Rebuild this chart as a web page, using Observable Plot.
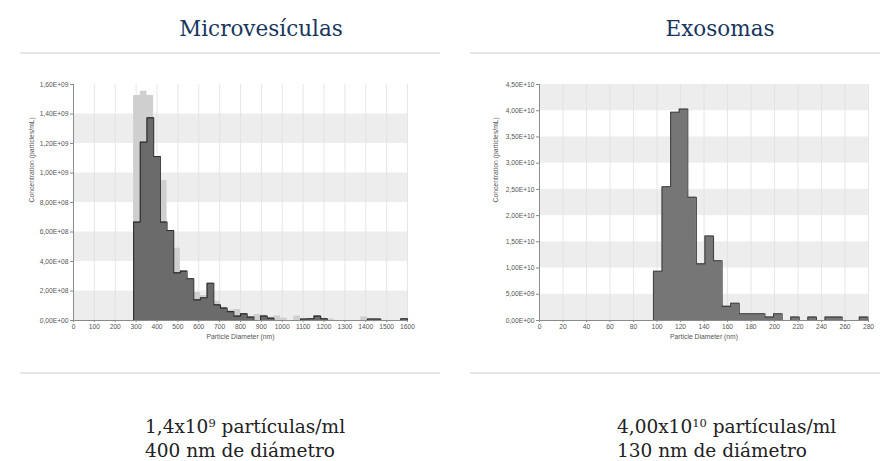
<!DOCTYPE html>
<html><head><meta charset="utf-8">
<script src="https://cdn.jsdelivr.net/npm/d3@7"></script>
<script src="https://cdn.jsdelivr.net/npm/@observablehq/plot@0.6"></script>
<style>
body{margin:0;background:#fff;}
#page{position:relative;width:882px;height:461px;overflow:hidden;font-family:"DejaVu Serif",serif;background:#fff;}
.title{position:absolute;top:16px;font-size:21.5px;line-height:26px;color:#17365d;white-space:nowrap;transform:translateX(-50%);}
.sep{position:absolute;height:1.5px;background:#e6e6e6;}
.note{position:absolute;font-size:18.5px;line-height:24px;color:#222;white-space:nowrap;}
.sup{font-size:0.62em;vertical-align:0.5em;line-height:0;}
.chart{position:absolute;top:60px;}
</style></head>
<body><div id="page">
<div class="title" style="left:261px">Microvesículas</div>
<div class="title" style="left:720px">Exosomas</div>
<div class="sep" style="left:20px;width:420px;top:52px"></div>
<div class="sep" style="left:470px;width:410px;top:52px"></div>
<div class="sep" style="left:20px;width:420px;top:372px"></div>
<div class="sep" style="left:470px;width:410px;top:372px"></div>
<div id="mv" class="chart" style="left:0px"></div>
<div id="exo" class="chart" style="left:460px"></div>
<div class="note" style="left:145px;top:414.6px">1,4x10<span class="sup">9</span> partículas/ml<br>400 nm de diámetro</div>
<div class="note" style="left:617px;top:414.6px">4,00x10<span class="sup">10</span> partículas/ml<br>130 nm de diámetro</div>
</div>
<script>
// ---------- Microvesículas data ----------
const mvEdges = [288,320,352,384,416,448,480,512,544,576,608,640,672,704,736,768,800,832,864,896,928,960,992,1024,1056,1088,1120,1152,1184,1216,1248,1280,1312,1344,1376,1408,1440,1472,1504,1536,1568,1600];
const mvDark = [0.667e9,1.209e9,1.374e9,1.112e9,0.667e9,0.610e9,0.323e9,0.335e9,0.283e9,0.140e9,0.154e9,0.253e9,0.106e9,0.084e9,0.060e9,0.030e9,0.045e9,0.023e9,0,0.030e9,0.016e9,0,0,0,0,0.010e9,0.012e9,0.030e9,0.012e9,0,0,0,0,0,0,0.010e9,0.010e9,0,0,0,0.012e9];
const mvLight = [1.525e9,1.555e9,1.525e9,1.110e9,0.950e9,0.600e9,0.490e9,0.300e9,0.250e9,0.190e9,0.170e9,0.140e9,0.130e9,0.090e9,0.070e9,0.075e9,0.040e9,0.020e9,0.040e9,0.035e9,0.015e9,0.030e9,0.015e9,0,0.030e9,0.010e9,0,0,0.015e9,0.010e9,0,0,0,0,0.025e9,0,0,0,0,0,0];
const mvXTicks = [0,100,200,300,400,500,600,700,800,900,1000,1100,1200,1300,1400,1500,1600];
const mvYTicks = [0,0.2e9,0.4e9,0.6e9,0.8e9,1.0e9,1.2e9,1.4e9,1.6e9];
const mvBands = [[0,0.2e9],[0.4e9,0.6e9],[0.8e9,1.0e9],[1.2e9,1.4e9]];

// ---------- Exosomas data ----------
const exoEdges = [97,104.3,111.6,118.9,126.2,133.5,140.8,148.1,155.4,162.7,170,177.3,184.6,191.9,199.2,206.5,213.8,221.1,228.4,235.7,243,250.3,257.6,264.9,272.2,279.5];
const exoValues = [0.94e10,2.55e10,3.97e10,4.03e10,2.35e10,1.08e10,1.61e10,1.14e10,0.27e10,0.33e10,0.13e10,0.13e10,0.13e10,0.065e10,0.13e10,0,0.065e10,0,0.065e10,0,0.065e10,0.065e10,0,0,0.065e10];
const exoXTicks = [0,20,40,60,80,100,120,140,160,180,200,220,240,260,280];
const exoYTicks = [0,0.5e10,1.0e10,1.5e10,2.0e10,2.5e10,3.0e10,3.5e10,4.0e10,4.5e10];
const exoBands = [[0,0.5e10],[1.0e10,1.5e10],[2.0e10,2.5e10],[3.0e10,3.5e10],[4.0e10,4.5e10]];

const xTitle = "Particle Diameter (nm)";
const yTitle = "Concentration (particles/mL)";

function sciFmt(v){
  if (v === 0) return "0,00E+00";
  const [m, e] = v.toExponential(2).split("e");
  const n = +e;
  return m.replace(".", ",") + "E" + (n < 0 ? "-" : "+") + String(Math.abs(n)).padStart(2, "0");
}
// step outline of a histogram: baseline -> each bin top -> back to baseline
function outline(edges, vals){
  const n = vals.length;
  return [{x: edges[0], y: 0}, ...vals.map((v, i) => ({x: edges[i], y: v})), {x: edges[n], y: vals[n-1]}, {x: edges[n], y: 0}];
}
const font = "'Liberation Sans', Arial, sans-serif";

function chart({width, ml, mr, xDomain, yDomain, xTicks, yTicks, bands, layers, yTitleDx}){
  return Plot.plot({
    width, height: 290, marginLeft: ml, marginRight: mr, marginTop: 24, marginBottom: 30,
    x: {domain: xDomain}, y: {domain: yDomain},
    style: {fontFamily: font, fontSize: "6.7px", color: "#555", background: "transparent", overflow: "visible"},
    marks: [
      Plot.rect(bands, {y1: d => d[0], y2: d => d[1], fill: "#ededed"}),
      Plot.ruleX(xTicks, {stroke: "#e0e0e0", strokeWidth: 0.8}),
      ...layers,
      Plot.ruleY([0], {stroke: "#8a8a8a", strokeWidth: 1}),
      Plot.ruleX([0], {stroke: "#8a8a8a", strokeWidth: 1}),
      Plot.axisX({ticks: xTicks, tickSize: 2, tickPadding: 1.5, tickFormat: d => String(d), label: null, stroke: "#8a8a8a", fill: "#555"}),
      Plot.axisY({ticks: yTicks, tickSize: 3, tickPadding: 2, tickFormat: sciFmt, label: null, stroke: "#8a8a8a", fill: "#555"}),
      Plot.text([xTitle], {text: d => d, frameAnchor: "bottom", dy: 18, fill: "#555", fontSize: 6.8}),
      Plot.text([yTitle], {text: d => d, frameAnchor: "left", dx: yTitleDx, rotate: -90, fill: "#555", fontSize: 6.8})
    ]
  });
}

document.getElementById("mv").append(chart({
  width: 440, ml: 73, mr: 33, xDomain: [0, 1600], yDomain: [0, 1.6e9],
  xTicks: mvXTicks, yTicks: mvYTicks, bands: mvBands, yTitleDx: -42,
  layers: [
    Plot.areaY(outline(mvEdges, mvLight), {x: "x", y: "y", curve: "step-after", fill: "#cfcfcf"}),
    Plot.areaY(outline(mvEdges, mvDark), {x: "x", y: "y", curve: "step-after", fill: "#6b6b6b"}),
    Plot.line(outline(mvEdges, mvDark), {x: "x", y: "y", curve: "step-after", stroke: "#2e2e2e", strokeWidth: 1.1})
  ]
}));

document.getElementById("exo").append(chart({
  width: 422, ml: 79, mr: 14, xDomain: [0, 280], yDomain: [0, 4.5e10],
  xTicks: exoXTicks, yTicks: exoYTicks, bands: exoBands, yTitleDx: -44,
  layers: [
    Plot.areaY(outline(exoEdges, exoValues), {x: "x", y: "y", curve: "step-after", fill: "#767676"}),
    Plot.line(outline(exoEdges, exoValues), {x: "x", y: "y", curve: "step-after", stroke: "#444", strokeWidth: 1.1})
  ]
}));
</script>
</body></html>
